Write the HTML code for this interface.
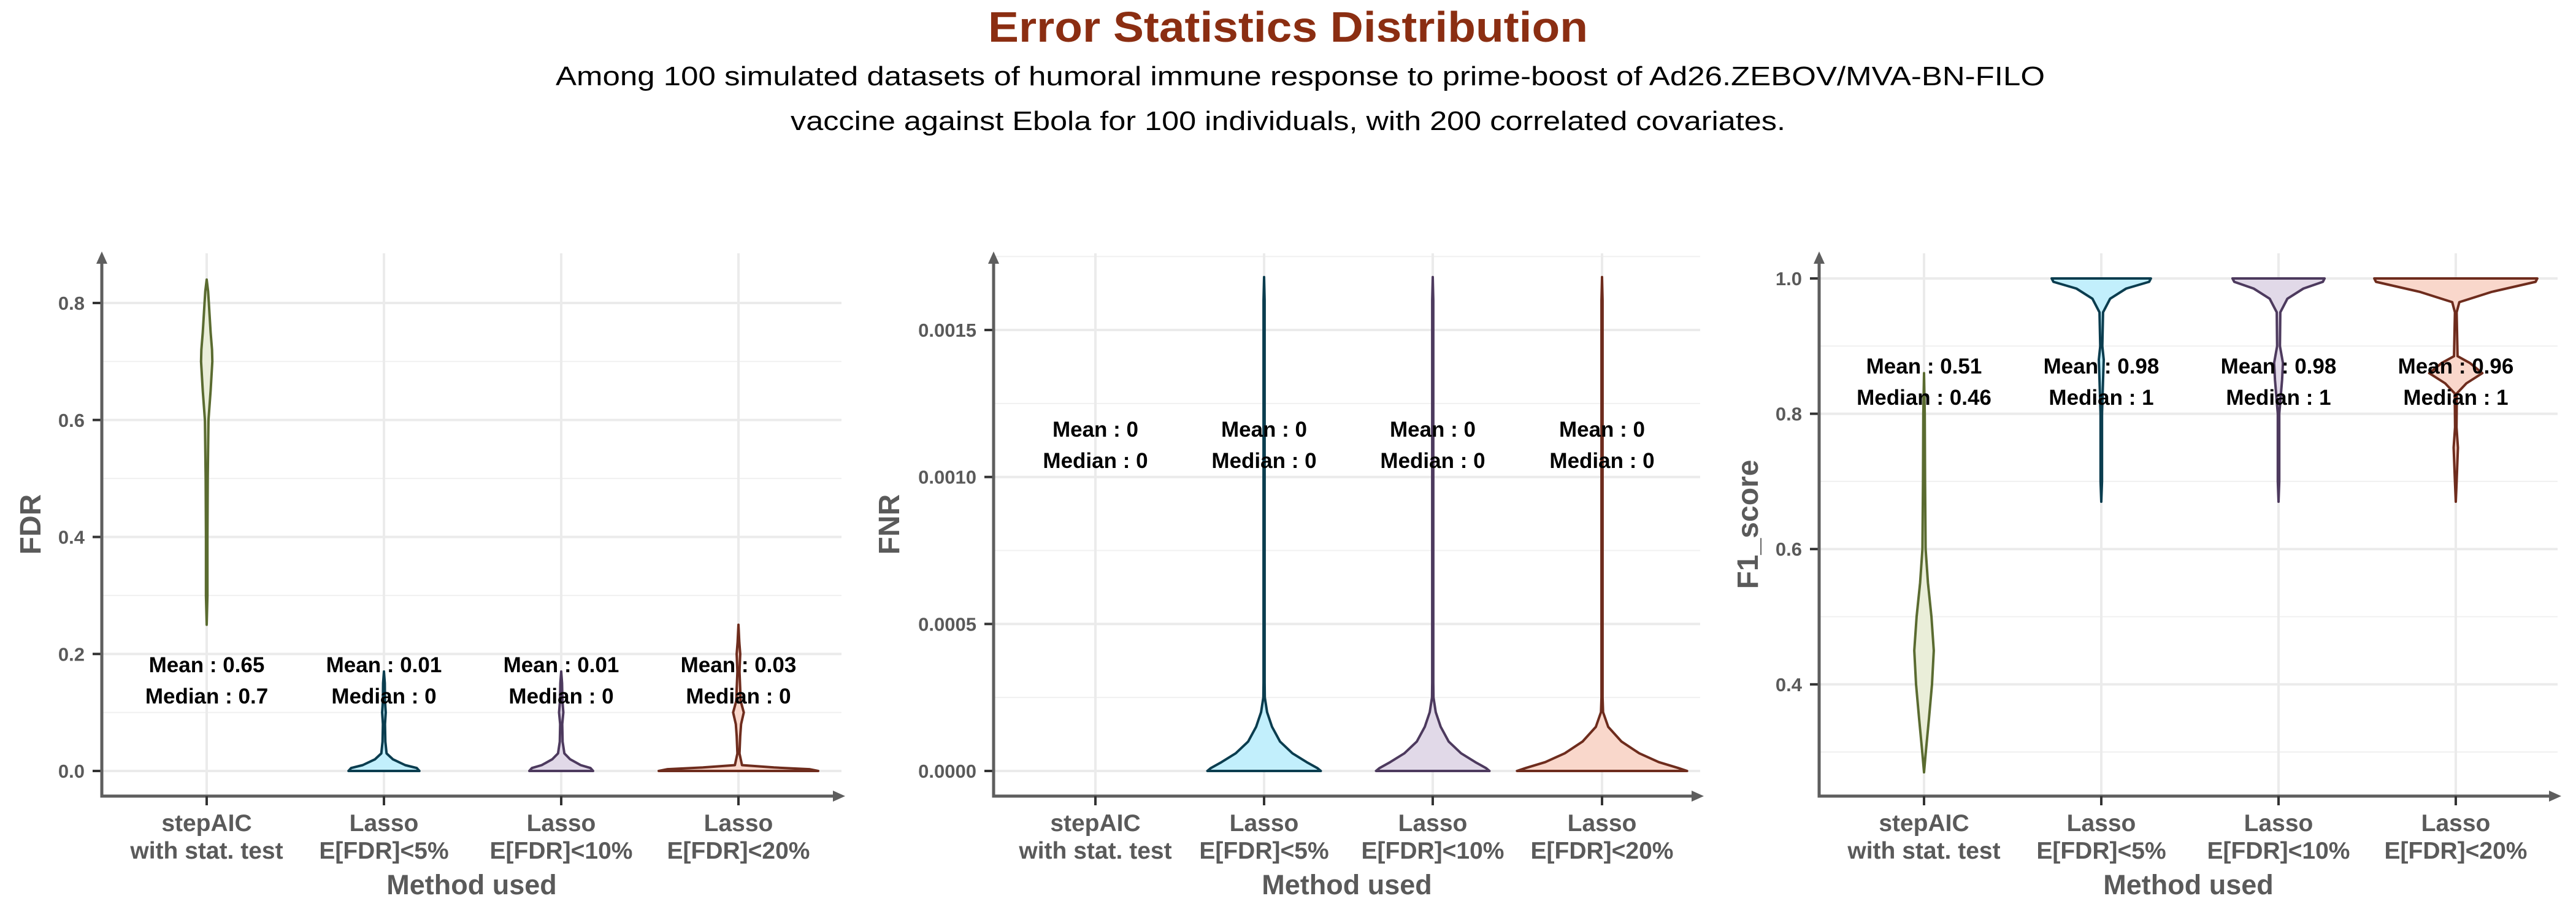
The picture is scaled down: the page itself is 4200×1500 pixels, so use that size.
<!DOCTYPE html>
<html><head><meta charset="utf-8"><style>
html,body{margin:0;padding:0;background:#fff;}
svg{display:block;font-family:"Liberation Sans",Arial,sans-serif;}
</style></head><body>
<svg id="chart" xmlns="http://www.w3.org/2000/svg" width="4200" height="1500" viewBox="0 0 4200 1500">
<text x="2100" y="68" text-anchor="middle" font-size="70" font-weight="bold" fill="#8b2e12" textLength="978" lengthAdjust="spacingAndGlyphs">Error Statistics Distribution</text>
<text x="2120" y="139" text-anchor="middle" font-size="44" fill="#000" textLength="2428" lengthAdjust="spacingAndGlyphs">Among 100 simulated datasets of humoral immune response to prime-boost of Ad26.ZEBOV/MVA-BN-FILO</text>
<text x="2100" y="212" text-anchor="middle" font-size="44" fill="#000" textLength="1622" lengthAdjust="spacingAndGlyphs">vaccine against Ebola for 100 individuals, with 200 correlated covariates.</text>
<g id="panels"></g>
</svg>
<script>
// ---- data ----
const categories = [["stepAIC","with stat. test"],["Lasso","E[FDR]<5%"],["Lasso","E[FDR]<10%"],["Lasso","E[FDR]<20%"]];
const metricNames = ["FDR","FNR","F1_score"];
const meanLabels = [["0.65","0.01","0.01","0.03"],["0","0","0","0"],["0.51","0.98","0.98","0.96"]];
const medianLabels = [["0.7","0","0","0"],["0","0","0","0"],["0.46","1","1","1"]];
const fdrTicks = [0,0.2,0.4,0.6,0.8];
const fdrTickLabels = ["0.0","0.2","0.4","0.6","0.8"];
const fnrTicks = [0,0.0005,0.001,0.0015];
const fnrTickLabels = ["0.0000","0.0005","0.0010","0.0015"];
const f1Ticks = [0.4,0.6,0.8,1.0];
const f1TickLabels = ["0.4","0.6","0.8","1.0"];
// violin profiles: y values and density (half-width as fraction of category band)
const fdrY = [
 [0.25,0.3,0.4,0.5,0.6,0.65,0.7,0.72,0.75,0.8,0.82,0.84],
 [0,0.005,0.01,0.02,0.03,0.05,0.08,0.1,0.12,0.15,0.17],
 [0,0.005,0.01,0.02,0.03,0.05,0.08,0.1,0.12,0.15,0.17],
 [0,0.003,0.006,0.01,0.03,0.06,0.08,0.1,0.12,0.14,0.17,0.2,0.22,0.25]];
const fdrD = [
 [0,0.004,0.004,0.006,0.01,0.022,0.032,0.03,0.022,0.012,0.008,0],
 [0.2,0.185,0.12,0.05,0.015,0.008,0.006,0.01,0.006,0.005,0],
 [0.18,0.165,0.11,0.05,0.018,0.008,0.006,0.012,0.007,0.005,0],
 [0.45,0.4,0.2,0.02,0.006,0.01,0.015,0.03,0.012,0.01,0.006,0.01,0.005,0]];
const fnrY = [
 [],
 [0,0.00001,0.00003,0.00006,0.0001,0.00015,0.0002,0.00025,0.0003,0.0016,0.00168],
 [0,0.00001,0.00003,0.00006,0.0001,0.00015,0.0002,0.00025,0.0003,0.0016,0.00168],
 [0,0.00001,0.00003,0.00006,0.0001,0.00015,0.0002,0.00025,0.0003,0.0016,0.00168]];
const fnrD = [
 [],
 [0.32,0.3,0.24,0.16,0.09,0.045,0.017,0.004,0.003,0.003,0],
 [0.32,0.3,0.24,0.16,0.09,0.045,0.017,0.004,0.003,0.003,0],
 [0.48,0.43,0.32,0.21,0.11,0.035,0.006,0.003,0.003,0.003,0]];
const f1Y = [
 [0.27,0.3,0.35,0.4,0.45,0.5,0.55,0.6,0.7,0.8,0.86],
 [0.67,0.7,0.8,0.85,0.88,0.9,0.95,0.97,0.985,0.995,1.0],
 [0.67,0.7,0.8,0.85,0.875,0.9,0.95,0.97,0.985,0.995,1.0],
 [0.67,0.7,0.75,0.78,0.83,0.845,0.86,0.875,0.885,0.95,0.965,0.98,0.995,1.0]];
const f1D = [
 [0,0.01,0.028,0.045,0.055,0.042,0.022,0.009,0.006,0.004,0],
 [0,0.004,0.004,0.01,0.014,0.006,0.01,0.05,0.14,0.27,0.28],
 [0,0.004,0.004,0.02,0.025,0.008,0.01,0.05,0.14,0.25,0.26],
 [0,0.005,0.012,0.004,0.006,0.06,0.15,0.08,0.01,0.005,0.02,0.2,0.45,0.46]];
const strokeColors = ["#5a6b30","#0b3d4f","#4d3a5e","#6e2c1d"];
const fillColors = ["#eaeed9","#c2effc","#e1d9e8","#f9d7cb"];

// ---- layout ----
const SVGNS = "http://www.w3.org/2000/svg";
const panels = [
 {axisX:166, right:1372, catX:[337,626,915,1204], y0:1257, yPerUnit:953.75, yRef:0, ticks:fdrTicks, tickLabels:fdrTickLabels, vy:fdrY, vd:fdrD, labelY:[1096,1147], titleX:66},
 {axisX:1620, right:2772, catX:[1786,2061,2336,2612], y0:1257, yPerUnit:479300, yRef:0, ticks:fnrTicks, tickLabels:fnrTickLabels, vy:fnrY, vd:fnrD, labelY:[712,763], titleX:1466},
 {axisX:2966, right:4170, catX:[3137,3426,3715,4004], y0:454, yPerUnit:1103, yRef:1.0, ticks:f1Ticks, tickLabels:f1TickLabels, vy:f1Y, vd:f1D, labelY:[609,660], titleX:2866}
];
const TOP = 416, BOTTOM = 1298, BAND = 289;
const root = document.getElementById("panels");
function mk(tag, attrs, parent){ const e=document.createElementNS(SVGNS,tag); for(const k in attrs) e.setAttribute(k,attrs[k]); (parent||root).appendChild(e); return e; }

panels.forEach((p, pi) => {
  const yScale = v => p.y0 - (v - p.yRef) * p.yPerUnit;
  const g = mk("g", {});
  
  
  const step = p.ticks[1]-p.ticks[0];
  for (let i=-1;i<p.ticks.length;i++){
    const v = p.ticks[0] + (i+0.5)*step;
    const y = yScale(v);
    if (y < TOP || y > BOTTOM) continue;
    const l = mk("line",{x1:p.axisX,x2:p.right,y1:y,y2:y,stroke:"#f0f0f0","stroke-width":2},g);
    
    
  }
  p.catX.forEach(x => {
    const l = mk("line",{x1:x,x2:x,y1:TOP-3,y2:BOTTOM,stroke:"#ebebeb","stroke-width":4},g);
    
    
  });
  p.ticks.forEach((v, ti) => {
    const y = yScale(v);
    const l = mk("line",{x1:p.axisX,x2:p.right,y1:y,y2:y,stroke:"#ebebeb","stroke-width":4},g);
    
    
    const t = mk("line",{x1:p.axisX-15,x2:p.axisX,y1:y,y2:y,stroke:"#333","stroke-width":4},g);
    
    
    const tx = mk("text",{x:p.axisX-28,y:y+11,"text-anchor":"end","font-size":31,"font-weight":"bold",fill:"#5a5a5a"},g);
    tx.textContent = p.tickLabels[ti];
    
    
  });
  p.catX.forEach((cx, ci) => {
    const ys = p.vy[ci], ds = p.vd[ci];
    if (!ys.length) return;
    let right = [], left = [];
    for (let k=0;k<ys.length;k++){
      right.push((cx + ds[k]*BAND).toFixed(1)+","+yScale(ys[k]).toFixed(1));
      left.unshift((cx - ds[k]*BAND).toFixed(1)+","+yScale(ys[k]).toFixed(1));
    }
    const path = mk("polygon",{points:right.concat(left).join(" "),fill:fillColors[ci],stroke:strokeColors[ci],"stroke-width":4,"stroke-linejoin":"round"},g);
    
    
  });
  const ax = mk("path",{d:`M${p.axisX},${TOP+10} L${p.axisX},${BOTTOM} L${p.right-2},${BOTTOM}`,fill:"none",stroke:"#5e5e5e","stroke-width":5},g);
  
  
  const ay = mk("polygon",{points:`${p.axisX-9},${TOP+14} ${p.axisX},${TOP-6} ${p.axisX+9},${TOP+14}`,fill:"#5e5e5e"},g);
  
  
  const axr = mk("polygon",{points:`${p.right-14},${BOTTOM-9} ${p.right+6},${BOTTOM} ${p.right-14},${BOTTOM+9}`,fill:"#5e5e5e"},g);
  
  
  p.catX.forEach((cx, ci) => {
    const t = mk("line",{x1:cx,x2:cx,y1:BOTTOM,y2:BOTTOM+15,stroke:"#333","stroke-width":4},g);
    
    
    const l1 = mk("text",{x:cx,y:1355,"text-anchor":"middle","font-size":39,"font-weight":"bold",fill:"#5a5a5a"},g);
    l1.textContent = categories[ci][0];
    
    
    const l2 = mk("text",{x:cx,y:1400,"text-anchor":"middle","font-size":39,"font-weight":"bold",fill:"#5a5a5a"},g);
    l2.textContent = categories[ci][1];
    
    
    const m1 = mk("text",{x:cx,y:p.labelY[0],"text-anchor":"middle","font-size":35,"font-weight":"bold",fill:"#000"},g);
    m1.textContent = "Mean : " + meanLabels[pi][ci];
    
    
    const m2 = mk("text",{x:cx,y:p.labelY[1],"text-anchor":"middle","font-size":35,"font-weight":"bold",fill:"#000"},g);
    m2.textContent = "Median : " + medianLabels[pi][ci];
    
    
  });
  const xt = mk("text",{x:(p.axisX+p.right)/2,y:1458,"text-anchor":"middle","font-size":45,"font-weight":"bold",fill:"#5a5a5a"},g);
  xt.textContent = "Method used";
  
  
  const yx = p.titleX;
  const yt = mk("text",{x:yx,y:855,"text-anchor":"middle","font-size":48,"font-weight":"bold",fill:"#5a5a5a",transform:`rotate(-90 ${yx} 855)`},g);
  yt.textContent = metricNames[pi];
  
  
});
</script>
</body></html>
